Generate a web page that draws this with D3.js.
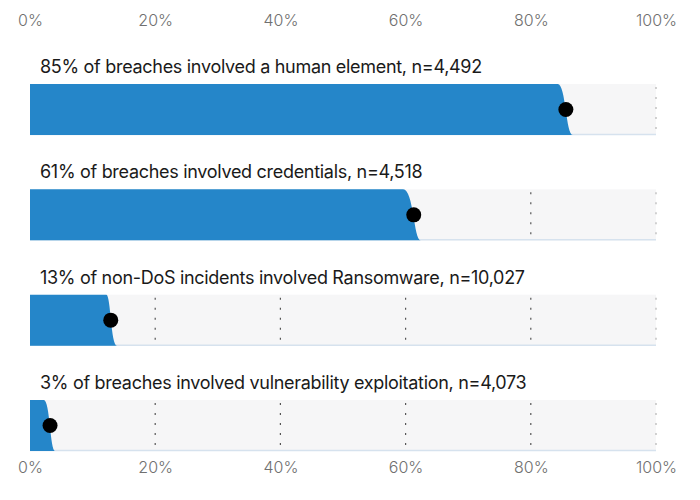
<!DOCTYPE html>
<html>
<head>
<meta charset="utf-8">
<script src="https://cdn.jsdelivr.net/npm/d3@7"></script>
<style>
  body { margin: 0; background: #fff; }
  text { font-family: Inter, "Noto Sans", sans-serif; }
</style>
</head>
<body>
<div id="chart"></div>
<script>
// chart data
var labels = [
  "85% of breaches involved a human element, n=4,492",
  "61% of breaches involved credentials, n=4,518",
  "13% of non-DoS incidents involved Ransomware, n=10,027",
  "3% of breaches involved vulnerability exploitation, n=4,073"
]
var values = [85.6, 61.3, 12.9, 3.2]   // point estimate (dot)
var lowValues = [84.3, 59.6, 12.2, 2.2]  // interval low end (top of edge)
var highValues = [86.7, 62.4, 13.9, 4.0] // interval high end (bottom of edge)
var tickValues = [0, 20, 40, 60, 80, 100]

var width = 700
var height = 500

var svg = d3.select("#chart")
  .append("svg")
  .attr("width", width)
  .attr("height", height)

//scales
var x = d3.scaleLinear()
  .domain([0, 100])
  .range([30, 656])

var y = d3.scaleBand()
  .domain(labels)
  .range([84, 451])
  .paddingInner(0.516)
  .paddingOuter(0)

var bh = y.bandwidth()

//axes top and bottom, text only
function drawAxis(axis, ypos) {
  var g = svg.append("g")
    .attr("transform", "translate(0," + ypos + ")")
    .call(axis.tickValues(tickValues).tickFormat(function(d){ return d + "%" }).tickSize(0).tickPadding(0))
  g.select(".domain").remove()
  g.selectAll("text")
    .attr("fill", "#707070")
    .style("font-size", "16px")
    .style("font-weight", 300)
}
drawAxis(d3.axisTop(x), 26)
drawAxis(d3.axisBottom(x), 462)

var rows = svg.selectAll(".row")
  .data(labels)
  .enter()
  .append("g")
  .attr("class", "row")
  .attr("transform", function(d){ return "translate(0," + y(d) + ")" })

//grey track
rows.append("rect")
  .attr("x", x(0))
  .attr("y", 0)
  .attr("width", x(100) - x(0))
  .attr("height", bh)
  .attr("fill", "#f6f6f7")

rows.append("line")
  .attr("x1", x(0))
  .attr("x2", x(100))
  .attr("y1", bh - 0.5)
  .attr("y2", bh - 0.5)
  .attr("stroke", "#d6e2ee")
  .attr("stroke-width", 1.5)

//dotted grid lines
rows.selectAll(".grid")
  .data(tickValues.slice(1))
  .enter()
  .append("line")
  .attr("class", "grid")
  .attr("x1", function(d){ return x(d) })
  .attr("x2", function(d){ return x(d) })
  .attr("y1", 3)
  .attr("y2", bh)
  .attr("stroke", function(d){ return d == 100 ? "#b5b5b5" : "#555" })
  .attr("stroke-width", 1.2)
  .attr("stroke-dasharray", "2,8")

//blue area with a curved right edge
rows.append("path")
  .attr("fill", "#2586c9")
  .attr("d", function(d, i) {
    var p = d3.path()
    var xv = x(values[i])
    p.moveTo(x(0), 0)
    p.lineTo(x(lowValues[i]), 0)
    p.bezierCurveTo(xv, 0, xv, bh, x(highValues[i]), bh)
    p.lineTo(x(0), bh)
    p.closePath()
    return p.toString()
  })

//the dot
rows.append("circle")
  .attr("cx", function(d, i){ return x(values[i]) })
  .attr("cy", bh / 2)
  .attr("r", 7.5)
  .attr("fill", "#000")

//labels
rows.append("text")
  .text(function(d){ return d })
  .attr("x", 40)
  .attr("y", -11)
  .attr("fill", "#1a1a1a")
  .style("font-size", "18px")
  .style("letter-spacing", "-0.3px")
</script>
</body>
</html>
